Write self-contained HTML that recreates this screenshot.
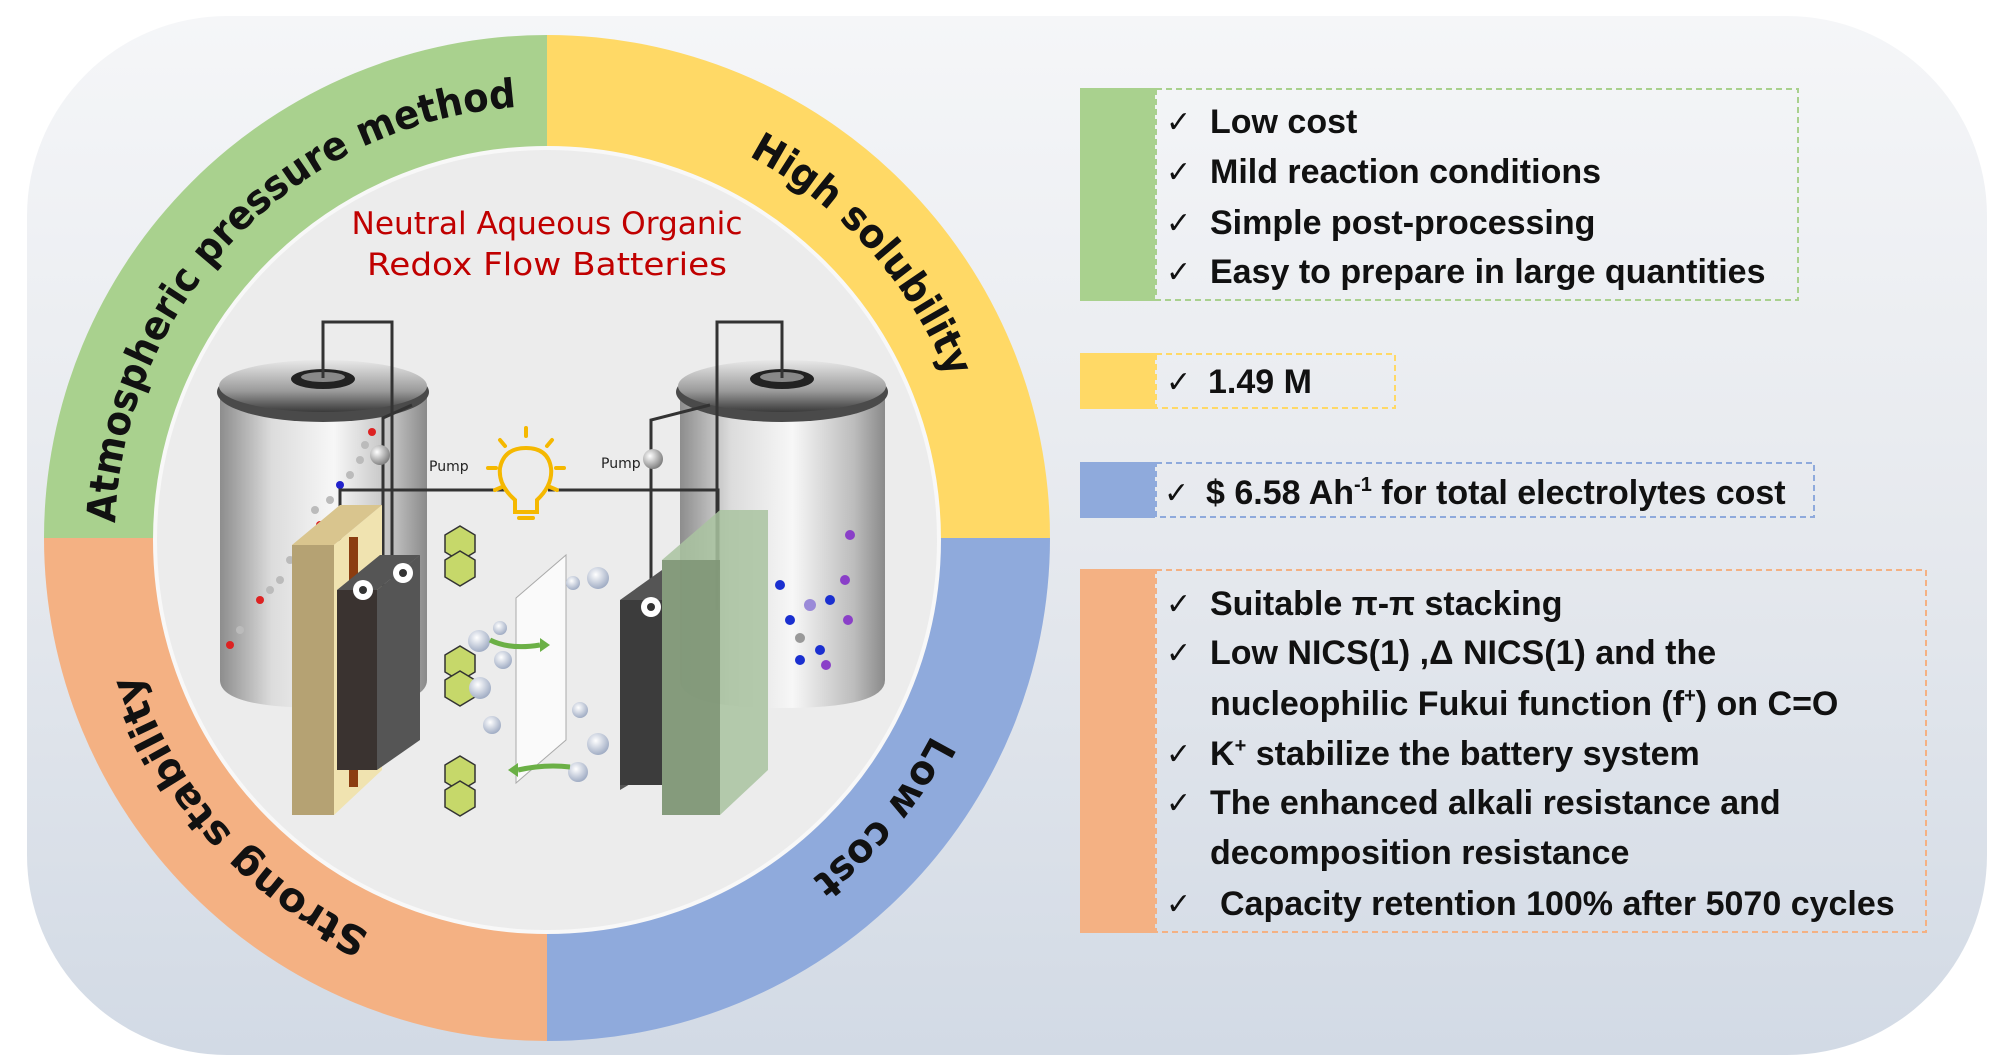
<!DOCTYPE html>
<html><head><meta charset="utf-8"><style>
html,body{margin:0;padding:0;background:#fff;}
svg{display:block;}
.rt{font-family:"Liberation Sans",sans-serif;font-weight:bold;font-size:34px;fill:#111;}
.ck{font-family:"DejaVu Sans",sans-serif;font-size:30px;fill:#111;}
.ring{font-family:"DejaVu Sans",sans-serif;font-weight:bold;font-size:40px;fill:#111;}
</style></head><body>
<svg width="1997" height="1064" viewBox="0 0 1997 1064" xmlns="http://www.w3.org/2000/svg">
<defs>
<linearGradient id="bg" x1="0" y1="0" x2="0" y2="1">
<stop offset="0" stop-color="#f5f6f8"/><stop offset="0.5" stop-color="#e6e9ee"/><stop offset="1" stop-color="#d2dae5"/></linearGradient>
<linearGradient id="tank" x1="0" y1="0" x2="1" y2="0">
<stop offset="0" stop-color="#8d8d8d"/><stop offset="0.25" stop-color="#dcdcdc"/><stop offset="0.55" stop-color="#f7f7f7"/><stop offset="0.85" stop-color="#bcbcbc"/><stop offset="1" stop-color="#8a8a8a"/></linearGradient>
<linearGradient id="lid" x1="0" y1="0" x2="0" y2="1">
<stop offset="0" stop-color="#e8e8e8"/><stop offset="0.6" stop-color="#9a9a9a"/><stop offset="1" stop-color="#3a3a3a"/></linearGradient>
<radialGradient id="ball" cx="0.35" cy="0.35" r="0.7"><stop offset="0" stop-color="#fff"/><stop offset="1" stop-color="#7c7c7c"/></radialGradient>
<radialGradient id="kb" cx="0.4" cy="0.35" r="0.7"><stop offset="0" stop-color="#fff"/><stop offset="1" stop-color="#9aa7c0"/></radialGradient>
<path id="circ" d="M 115 538 A 432 432 0 1 1 979 538 A 432 432 0 1 1 115 538"/>
</defs>
<rect x="27" y="16" width="1960" height="1039" rx="200" ry="200" fill="url(#bg)"/>

<path d="M547 538 L547 35 A503 503 0 0 0 44 538 Z" fill="#a9d18e"/>
<path d="M547 538 L547 35 A503 503 0 0 1 1050 538 Z" fill="#ffd966"/>
<path d="M547 538 L1050 538 A503 503 0 0 1 547 1041 Z" fill="#8faadc"/>
<path d="M547 538 L547 1041 A503 503 0 0 1 44 538 Z" fill="#f4b183"/>
<circle cx="547" cy="540" r="392" fill="#ececec" stroke="#f8f8f8" stroke-width="4"/>

<text class="ring"><textPath href="#circ" startOffset="15" textLength="633" lengthAdjust="spacingAndGlyphs">Atmospheric pressure method</textPath></text>
<text class="ring"><textPath href="#circ" startOffset="888" textLength="305" lengthAdjust="spacingAndGlyphs">High solubility</textPath></text>
<text class="ring"><textPath href="#circ" startOffset="1561" textLength="189" lengthAdjust="spacingAndGlyphs">Low cost</textPath></text>
<text class="ring"><textPath href="#circ" startOffset="2217" textLength="359" lengthAdjust="spacingAndGlyphs">Strong stability</textPath></text>

<text x="547" y="234" text-anchor="middle" font-family="DejaVu Sans,sans-serif" font-size="31" fill="#c00000" textLength="391" lengthAdjust="spacingAndGlyphs">Neutral Aqueous Organic</text>
<text x="547" y="275" text-anchor="middle" font-family="DejaVu Sans,sans-serif" font-size="31" fill="#c00000" textLength="360" lengthAdjust="spacingAndGlyphs">Redox Flow Batteries</text>

<g>
<path d="M220 392 L220 680 Q220 708 323 708 Q427 708 427 680 L427 392 Z" fill="url(#tank)"/>
<ellipse cx="323" cy="392" rx="106" ry="30" fill="#4a4a4a"/>
<ellipse cx="323" cy="386" rx="104" ry="26" fill="url(#lid)"/>
<ellipse cx="323" cy="379" rx="32" ry="10" fill="#222"/>
<ellipse cx="323" cy="377" rx="22" ry="5" fill="#888"/>
<path d="M680 392 L680 680 Q680 708 782 708 Q885 708 885 680 L885 392 Z" fill="url(#tank)"/>
<ellipse cx="782" cy="392" rx="106" ry="30" fill="#4a4a4a"/>
<ellipse cx="782" cy="386" rx="104" ry="26" fill="url(#lid)"/>
<ellipse cx="782" cy="379" rx="32" ry="10" fill="#222"/>
<ellipse cx="782" cy="377" rx="22" ry="5" fill="#888"/>
</g>
<g fill="#bbb">
<circle cx="260" cy="600" r="4" fill="#d22"/><circle cx="270" cy="590" r="4"/><circle cx="280" cy="580" r="4"/><circle cx="290" cy="560" r="4"/><circle cx="300" cy="550" r="4" fill="#22c"/><circle cx="310" cy="540" r="4"/><circle cx="320" cy="525" r="4" fill="#d22"/><circle cx="315" cy="510" r="4"/><circle cx="330" cy="500" r="4"/><circle cx="340" cy="485" r="4" fill="#22c"/><circle cx="350" cy="475" r="4"/><circle cx="360" cy="460" r="4"/><circle cx="365" cy="445" r="4"/><circle cx="372" cy="432" r="4" fill="#d22"/><circle cx="240" cy="630" r="4"/><circle cx="230" cy="645" r="4" fill="#d22"/><circle cx="335" cy="520" r="4" fill="#d22"/>
</g>
<g>
<circle cx="850" cy="535" r="5" fill="#8a3fc8"/><circle cx="845" cy="580" r="5" fill="#8a3fc8"/><circle cx="848" cy="620" r="5" fill="#8a3fc8"/><circle cx="830" cy="600" r="5" fill="#1a2fd0"/><circle cx="780" cy="585" r="5" fill="#1a2fd0"/><circle cx="820" cy="650" r="5" fill="#1a2fd0"/><circle cx="800" cy="638" r="5" fill="#999"/><circle cx="810" cy="605" r="6" fill="#9a8ad8"/><circle cx="790" cy="620" r="5" fill="#1a2fd0"/><circle cx="800" cy="660" r="5" fill="#1a2fd0"/><circle cx="826" cy="665" r="5" fill="#8a3fc8"/>
</g>

<g fill="none" stroke="#333" stroke-width="3">
<path d="M323 378 L323 322 L392 322 L392 620"/>
<path d="M412 405 L383 418 L383 620"/>
<path d="M782 378 L782 322 L717 322 L717 610"/>
<path d="M710 405 L651 420 L651 610"/>
<path d="M340 570 L340 490 L505 490 M548 490 L718 490 L718 570"/>
</g>
<circle cx="380" cy="455" r="10" fill="url(#ball)"/>
<circle cx="653" cy="459" r="10" fill="url(#ball)"/>
<text x="429" y="471" font-family="DejaVu Sans,sans-serif" font-size="14" fill="#222">Pump</text>
<text x="601" y="468" font-family="DejaVu Sans,sans-serif" font-size="14" fill="#222">Pump</text>
<g stroke="#f5b800" stroke-width="4" fill="none" stroke-linecap="round">
<path d="M515 500 Q498 485 500 468 Q504 448 526 448 Q548 448 551 468 Q553 485 537 500 L537 512 L515 512 Z"/>
<path d="M519 518 L533 518"/>
<path d="M526 428 L526 436 M500 440 L505 446 M552 440 L547 446 M488 468 L496 468 M556 468 L564 468 M495 490 L502 487 M557 490 L550 487"/>
</g>

<polygon points="292,545 340,505 382,505 334,545" fill="#d9c58e"/>
<rect x="292" y="545" width="42" height="270" fill="#b5a273"/>
<polygon points="334,545 382,505 382,770 334,815" fill="#f0e3b0"/>
<rect x="349" y="537" width="9" height="250" fill="#8b3d10"/>
<polygon points="337,590 380,555 420,555 377,590" fill="#555"/>
<rect x="337" y="590" width="40" height="180" fill="#3a3330"/>
<polygon points="377,590 420,555 420,740 377,770" fill="#555"/>
<circle cx="363" cy="590" r="10" fill="#fff"/><circle cx="363" cy="590" r="4" fill="#333"/>
<circle cx="403" cy="573" r="10" fill="#fff"/><circle cx="403" cy="573" r="4" fill="#333"/>
<polygon points="516,598 566,555 566,740 516,783" fill="#fafafa" stroke="#aaa" stroke-width="1"/>
<polygon points="620,600 662,570 662,765 620,790" fill="#555"/>
<rect x="620" y="600" width="42" height="185" fill="#3c3c3c"/>
<circle cx="651" cy="607" r="10" fill="#fff"/><circle cx="651" cy="607" r="4" fill="#333"/>
<polygon points="662,560 720,510 768,510 768,770 720,815 662,815" fill="#a9c3a0" opacity="0.85"/>
<rect x="662" y="560" width="58" height="255" fill="#7f9677" opacity="0.9"/>
<g fill="#c6d86a" stroke="#333" stroke-width="1.5">
<polygon points="445,535 460,526 475,535 475,552 460,561 445,552"/>
<polygon points="445,560 460,551 475,560 475,577 460,586 445,577"/>
<polygon points="445,655 460,646 475,655 475,672 460,681 445,672"/>
<polygon points="445,680 460,671 475,680 475,697 460,706 445,697"/>
<polygon points="445,765 460,756 475,765 475,782 460,791 445,782"/>
<polygon points="445,790 460,781 475,790 475,807 460,816 445,807"/>
</g>
<g fill="url(#kb)">
<circle cx="479" cy="641" r="11"/><circle cx="503" cy="660" r="9"/><circle cx="480" cy="688" r="11"/><circle cx="492" cy="725" r="9"/><circle cx="580" cy="710" r="8"/><circle cx="598" cy="744" r="11"/><circle cx="578" cy="772" r="10"/><circle cx="598" cy="578" r="11"/><circle cx="573" cy="583" r="7"/><circle cx="500" cy="628" r="7"/>
</g>
<g stroke="#6bb046" stroke-width="5" fill="none"><path d="M490 640 Q510 650 540 645"/><path d="M570 767 Q545 764 518 770"/></g>
<polygon points="540,638 550,645 540,652" fill="#6bb046"/>
<polygon points="518,763 508,770 518,777" fill="#6bb046"/>

<rect x="1080" y="88" width="75" height="213" fill="#a9d18e"/>
<rect x="1156" y="89" width="642" height="211" fill="none" stroke="#a9d18e" stroke-width="2" stroke-dasharray="6,4"/>
<rect x="1080" y="353" width="75" height="56" fill="#ffd966"/>
<rect x="1156" y="354" width="239" height="54" fill="none" stroke="#ffd966" stroke-width="2" stroke-dasharray="6,4"/>
<rect x="1080" y="462" width="75" height="56" fill="#8faadc"/>
<rect x="1156" y="463" width="658" height="54" fill="none" stroke="#8faadc" stroke-width="2" stroke-dasharray="6,4"/>
<rect x="1080" y="569" width="75" height="364" fill="#f4b183"/>
<rect x="1156" y="570" width="770" height="362" fill="none" stroke="#f4b183" stroke-width="2" stroke-dasharray="6,4"/>

<g class="ck">
<text x="1166" y="132">✓</text><text x="1166" y="182">✓</text><text x="1166" y="233">✓</text><text x="1166" y="282">✓</text>
<text x="1166" y="392">✓</text><text x="1164" y="503">✓</text>
<text x="1166" y="614">✓</text><text x="1166" y="663">✓</text><text x="1166" y="764">✓</text><text x="1166" y="813">✓</text><text x="1166" y="914">✓</text>
</g>
<g class="rt">
<text x="1210" y="133">Low cost</text>
<text x="1210" y="183">Mild reaction conditions</text>
<text x="1210" y="234">Simple post-processing</text>
<text x="1210" y="283">Easy to prepare in large quantities</text>
<text x="1208" y="393">1.49 M</text>
<text x="1206" y="504">$ 6.58 Ah<tspan font-size="20" dy="-13">-1</tspan><tspan dy="13"> for total electrolytes cost</tspan></text>
<text x="1210" y="615">Suitable π-π stacking</text>
<text x="1210" y="664">Low NICS(1) ,Δ NICS(1) and the</text>
<text x="1210" y="715">nucleophilic Fukui function (f<tspan font-size="20" dy="-13">+</tspan><tspan dy="13">) on C=O</tspan></text>
<text x="1210" y="765">K<tspan font-size="20" dy="-13">+</tspan><tspan dy="13"> stabilize the battery system</tspan></text>
<text x="1210" y="814">The enhanced alkali resistance and</text>
<text x="1210" y="864">decomposition resistance</text>
<text x="1220" y="915">Capacity retention 100% after 5070 cycles</text>
</g>
</svg>
</body></html>
